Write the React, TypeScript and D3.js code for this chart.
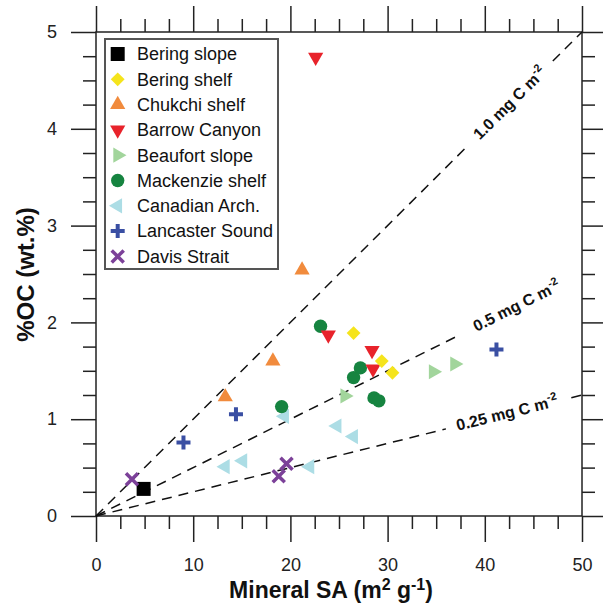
import React, { useEffect, useRef } from 'react';
import * as d3 from 'd3';

// [Mineral SA (m2/g), %OC]
const beringSlope = [[4.9, 0.28]];
const beringShelf = [[26.5, 1.89], [29.4, 1.6], [30.5, 1.48]];
const chukchiShelf = [[13.3, 1.23], [18.2, 1.6], [21.2, 2.54]];
const barrowCanyon = [[22.6, 4.74], [23.9, 1.87], [28.4, 1.71], [28.5, 1.52]];
const beaufortSlope = [[25.6, 1.24], [34.7, 1.49], [36.9, 1.57]];
const mackenzieShelf = [[23.1, 1.96], [19.1, 1.13], [26.5, 1.43], [27.2, 1.53], [28.6, 1.22], [29.1, 1.19]];
const canadianArch = [[13.3, 0.51], [15.1, 0.57], [19.4, 1.03], [22.0, 0.51], [24.8, 0.93], [26.5, 0.82]];
const lancasterSound = [[9.0, 0.76], [14.4, 1.05], [41.2, 1.72]];
const davisStrait = [[3.7, 0.38], [18.8, 0.41], [19.6, 0.54]];

// loading lines (mg C m-2), label position and gap in SA units
const loadings = [1.0, 0.5, 0.25];
const loadingLabels = ['1.0 mg C m', '0.5 mg C m', '0.25 mg C m'];
const labelAt = [42.6, 43.3, 42.3];
const gapStart = [38.3, 37.5, 36.0];
const gapEnd = [47.0, 50, 48.9];

const xMajor = [0, 10, 20, 30, 40, 50];
const yMajor = [0, 1, 2, 3, 4, 5];

const FONT = '"Liberation Sans", Arial, sans-serif';

function App() {
  const ref = useRef(null);

  useEffect(() => {
    const svg = d3.select(ref.current);
    svg.selectAll('*').remove();

    const x = d3.scaleLinear().domain([0, 50]).range([96, 582]);
    const y = d3.scaleLinear().domain([0, 5]).range([516, 32]);

    const xMinor = d3.range(0, 50.01, 2.5).filter(v => v % 10 !== 0);
    const yMinor = d3.range(0, 5.001, 0.25).filter(v => Math.abs(v - Math.round(v)) > 0.01);

    const style = g => {
      g.select('.domain').remove();
      g.selectAll('line').attr('stroke', '#222').attr('stroke-width', 1.5);
      g.selectAll('text').attr('font-family', FONT).attr('font-size', 18).attr('fill', '#222');
    };

    // axes
    const axes = [
      [d3.axisBottom(x), 516, 'x'],
      [d3.axisTop(x), 32, 'x'],
      [d3.axisLeft(y), 96, 'y'],
      [d3.axisRight(y), 582, 'y'],
    ];
    axes.forEach(([ax, pos, dim], i) => {
      const tr = dim === 'x' ? `translate(0,${pos})` : `translate(${pos},0)`;
      const major = dim === 'x' ? xMajor : yMajor;
      const minor = dim === 'x' ? xMinor : yMinor;
      svg.append('g').attr('transform', tr)
        .call(ax.tickValues(minor).tickSize(13).tickSizeOuter(0).tickFormat(() => ''))
        .call(style);
      const showLabels = i === 0 || i === 2;
      svg.append('g').attr('transform', tr)
        .call(ax.tickValues(major).tickSize(i === 2 ? 25 : 26).tickSizeOuter(0)
          .tickPadding(i === 2 ? 14 : 16)
          .tickFormat(showLabels ? d3.format('d') : () => ''))
        .call(style);
    });

    svg.append('rect')
      .attr('x', 96).attr('y', 32).attr('width', 486).attr('height', 484)
      .attr('fill', 'none').attr('stroke', '#222').attr('stroke-width', 1.5);

    // axis titles
    const xt = svg.append('text')
      .attr('x', 331).attr('y', 598)
      .attr('text-anchor', 'middle')
      .attr('font-family', FONT).attr('font-weight', 'bold').attr('font-size', 23)
      .attr('fill', '#111');
    xt.append('tspan').text('Mineral SA (m');
    xt.append('tspan').attr('dy', -8).attr('font-size', 16).text('2');
    xt.append('tspan').attr('dy', 8).text(' g');
    xt.append('tspan').attr('dy', -8).attr('font-size', 16).text('-1');
    xt.append('tspan').attr('dy', 8).text(')');

    svg.append('text')
      .attr('transform', 'translate(33.5,274.5) rotate(-90)')
      .attr('text-anchor', 'middle')
      .attr('font-family', FONT).attr('font-weight', 'bold').attr('font-size', 24)
      .attr('fill', '#111')
      .text('%OC (wt.%)');

    // loading lines
    loadings.forEach((k, i) => {
      const f = sa => (sa * k) / 10;
      const segs = [[0, gapStart[i]], [gapEnd[i], 50]].filter(s => s[1] - s[0] > 0.01);
      segs.forEach(([a, b]) => {
        svg.append('line')
          .attr('x1', x(a)).attr('y1', y(f(a)))
          .attr('x2', x(b)).attr('y2', y(f(b)))
          .attr('stroke', '#111').attr('stroke-width', 1.5)
          .attr('stroke-dasharray', '10,7');
      });
      const ang = (Math.atan2(y(f(50)) - y(0), x(50) - x(0)) * 180) / Math.PI;
      const lt = svg.append('text')
        .attr('transform', `translate(${x(labelAt[i])},${y(f(labelAt[i]))}) rotate(${ang})`)
        .attr('text-anchor', 'middle')
        .attr('dy', '0.3em')
        .attr('font-family', FONT).attr('font-weight', 'bold').attr('font-size', 16)
        .attr('fill', '#111');
      lt.append('tspan').text(loadingLabels[i]);
      lt.append('tspan').attr('dy', -7).attr('font-size', 11).text('-2');
    });

    // series (drawn in overlap order)
    const series = [
      { name: 'Bering slope', data: beringSlope, type: d3.symbolSquare, size: 196, rot: 0, color: '#000000', order: 6 },
      { name: 'Bering shelf', data: beringShelf, type: d3.symbolDiamond2, size: 122, rot: 0, color: '#f5e41c', order: 5 },
      { name: 'Chukchi shelf', data: chukchiShelf, type: d3.symbolTriangle, size: 100, rot: 0, color: '#f18b3d', order: 4 },
      { name: 'Barrow Canyon', data: barrowCanyon, type: d3.symbolTriangle, size: 100, rot: 180, color: '#e8232b', order: 3 },
      { name: 'Beaufort slope', data: beaufortSlope, type: d3.symbolTriangle, size: 100, rot: 90, color: '#a2d59c', order: 2 },
      { name: 'Mackenzie shelf', data: mackenzieShelf, type: d3.symbolCircle, size: 140, rot: 0, color: '#168440', order: 1 },
      { name: 'Canadian Arch.', data: canadianArch, type: d3.symbolTriangle, size: 100, rot: -90, color: '#acdde5', order: 0 },
      { name: 'Lancaster Sound', data: lancasterSound, type: d3.symbolPlus, size: 66, rot: 0, color: '#3a4fa3', order: 7, stroke: 4 },
      { name: 'Davis Strait', data: davisStrait, type: d3.symbolTimes, size: 96, rot: 0, color: '#7c4199', order: 8, stroke: 3.5 },
    ];

    const drawMarker = (g, s, cx, cy) => {
      const p = g.append('path')
        .attr('d', d3.symbol().type(s.type).size(s.size)())
        .attr('transform', `translate(${cx},${cy}) rotate(${s.rot})`);
      if (s.stroke) p.attr('fill', 'none').attr('stroke', s.color).attr('stroke-width', s.stroke);
      else p.attr('fill', s.color);
    };

    const pts = svg.append('g');
    series.slice().sort((a, b) => a.order - b.order).forEach(s => {
      s.data.forEach(d => drawMarker(pts, s, x(d[0]), y(d[1])));
    });

    // legend
    const lg = svg.append('g');
    lg.append('rect')
      .attr('x', 105).attr('y', 39).attr('width', 173).attr('height', 230)
      .attr('fill', '#fff').attr('stroke', '#555').attr('stroke-width', 2);
    series.forEach((s, i) => {
      const cy = 54 + i * 25.3;
      drawMarker(lg, s, 117.7, cy);
      lg.append('text')
        .attr('x', 137).attr('y', cy).attr('dy', '0.35em')
        .attr('font-family', FONT).attr('font-size', 18).attr('fill', '#111')
        .text(s.name);
    });
  }, []);

  return (
    <svg ref={ref} width={603} height={605}
      style={{ position: 'absolute', left: 0, top: 0, background: '#fff' }} />
  );
}

export default App;
